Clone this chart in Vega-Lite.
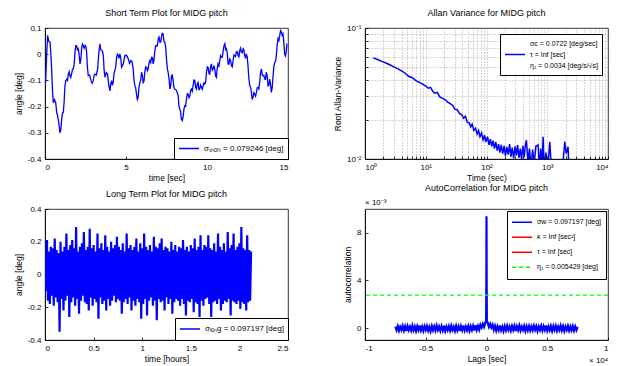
{
  "$schema": "https://vega.github.io/schema/vega-lite/v6.json",
  "background": "white",
  "padding": {"left": 13, "top": 8, "right": 0, "bottom": 0},
  "config": {
    "font": "Liberation Sans",
    "view": {"stroke": "black", "strokeWidth": 0.8},
    "axis": {"domainColor": "black", "domainWidth": 0.8, "tickColor": "black", "tickWidth": 0.8, "tickSize": -3, "labelPadding": 7, "labelColor": "black", "titleColor": "black", "labelFontSize": 8, "titleFontSize": 8.5, "titleFontWeight": "normal", "grid": false},
    "title": {"fontSize": 9, "fontWeight": "normal", "color": "black", "offset": 6, "anchor": "middle"},
    "legend": {"strokeColor": "black", "fillColor": "white", "padding": 4, "symbolType": "stroke", "symbolSize": 400, "symbolStrokeWidth": 1.5, "labelFontSize": 8, "labelColor": "black", "title": null}
  },
  "columns": 2,
  "bounds": "flush",
  "spacing": {"row": 50, "column": 77},
  "resolve": {"scale": {"color": "independent", "strokeDash": "independent"}, "legend": {"color": "independent", "strokeDash": "independent"}},
  "concat": [
    {
      "title": "Short Term Plot for MIDG pitch",
      "width": 243, "height": 131,
      "data": {"values": [
        {"t":0.04,"v":-0.108},{"t":0.16,"v":0.072},{"t":0.31,"v":0.046},{"t":0.41,"v":-0.056},{"t":0.51,"v":-0.185},{"t":0.66,"v":-0.185},{"t":0.78,"v":-0.236},{"t":0.92,"v":-0.300},{"t":1.03,"v":-0.249},{"t":1.13,"v":-0.223},
        {"t":1.23,"v":-0.121},{"t":1.34,"v":-0.095},{"t":1.44,"v":-0.076},{"t":1.54,"v":-0.082},{"t":1.64,"v":-0.076},{"t":1.75,"v":-0.056},{"t":1.85,"v":0.008},{"t":1.95,"v":0.033},{"t":2.05,"v":0.021},{"t":2.16,"v":-0.037},
        {"t":2.26,"v":0.021},{"t":2.36,"v":0.033},{"t":2.47,"v":0.033},{"t":2.57,"v":0.008},{"t":2.67,"v":-0.082},{"t":2.84,"v":-0.101},{"t":2.98,"v":-0.101},{"t":3.08,"v":-0.076},{"t":3.25,"v":-0.056},{"t":3.39,"v":0.040},
        {"t":3.49,"v":0.014},{"t":3.60,"v":-0.005},{"t":3.70,"v":-0.088},{"t":3.86,"v":-0.076},{"t":4.01,"v":-0.140},{"t":4.11,"v":-0.101},{"t":4.21,"v":-0.108},{"t":4.31,"v":-0.063},{"t":4.42,"v":-0.012},{"t":4.52,"v":-0.005},
        {"t":4.62,"v":0.001},{"t":4.73,"v":-0.050},{"t":4.93,"v":-0.005},{"t":5.14,"v":-0.018},{"t":5.30,"v":-0.024},{"t":5.44,"v":-0.056},{"t":5.55,"v":-0.121},{"t":5.65,"v":-0.153},{"t":5.75,"v":-0.165},{"t":5.86,"v":-0.108},
        {"t":5.96,"v":-0.069},{"t":6.06,"v":-0.108},{"t":6.16,"v":-0.069},{"t":6.27,"v":-0.050},{"t":6.37,"v":-0.056},{"t":6.47,"v":-0.024},{"t":6.58,"v":-0.012},{"t":6.68,"v":-0.037},{"t":6.78,"v":0.014},{"t":6.88,"v":0.033},
        {"t":6.99,"v":0.059},{"t":7.09,"v":0.046},{"t":7.19,"v":0.065},{"t":7.29,"v":0.078},{"t":7.40,"v":0.046},{"t":7.50,"v":-0.018},{"t":7.60,"v":-0.069},{"t":7.71,"v":-0.133},{"t":7.81,"v":-0.082},{"t":7.91,"v":-0.101},
        {"t":8.01,"v":-0.133},{"t":8.22,"v":-0.159},{"t":8.32,"v":-0.210},{"t":8.42,"v":-0.249},{"t":8.53,"v":-0.236},{"t":8.63,"v":-0.197},{"t":8.73,"v":-0.172},{"t":8.84,"v":-0.153},{"t":8.94,"v":-0.159},{"t":9.04,"v":-0.133},
        {"t":9.14,"v":-0.121},{"t":9.25,"v":-0.101},{"t":9.35,"v":-0.133},{"t":9.45,"v":-0.108},{"t":9.55,"v":-0.133},{"t":9.66,"v":-0.127},{"t":9.76,"v":-0.121},{"t":9.86,"v":-0.114},{"t":9.97,"v":-0.069},{"t":10.07,"v":-0.050},
        {"t":10.17,"v":-0.076},{"t":10.27,"v":-0.037},{"t":10.38,"v":-0.056},{"t":10.48,"v":-0.056},{"t":10.58,"v":-0.088},{"t":10.68,"v":-0.037},{"t":10.79,"v":-0.024},{"t":10.89,"v":-0.012},{"t":10.99,"v":0.008},{"t":11.10,"v":0.040},
        {"t":11.20,"v":0.021},{"t":11.30,"v":-0.037},{"t":11.40,"v":-0.018},{"t":11.51,"v":-0.044},{"t":11.61,"v":-0.024},{"t":11.71,"v":-0.005},{"t":11.81,"v":0.008},{"t":11.92,"v":-0.005},{"t":12.02,"v":0.014},{"t":12.12,"v":0.008},
        {"t":12.23,"v":0.021},{"t":12.33,"v":-0.005},{"t":12.43,"v":0.001},{"t":12.53,"v":-0.044},{"t":12.64,"v":-0.121},{"t":12.74,"v":-0.146},{"t":12.84,"v":-0.165},{"t":12.95,"v":-0.153},{"t":13.05,"v":-0.146},{"t":13.15,"v":-0.127},
        {"t":13.25,"v":-0.108},{"t":13.36,"v":-0.056},{"t":13.46,"v":-0.082},{"t":13.56,"v":-0.095},{"t":13.66,"v":-0.069},{"t":13.77,"v":-0.121},{"t":13.87,"v":-0.095},{"t":13.97,"v":-0.146},{"t":14.08,"v":-0.082},{"t":14.18,"v":-0.031},
        {"t":14.28,"v":-0.005},{"t":14.38,"v":0.059},{"t":14.49,"v":0.072},{"t":14.59,"v":0.085},{"t":14.69,"v":0.078},{"t":14.79,"v":0.001},{"t":14.90,"v":0.014},{"t":14.96,"v":0.033},
        {"t":0.10,"v":-0.006},{"t":0.235,"v":0.049},{"t":0.36,"v":0.003},{"t":0.46,"v":-0.135},{"t":0.585,"v":-0.173},{"t":0.72,"v":-0.221},{"t":0.85,"v":-0.260},{"t":0.975,"v":-0.289},{"t":1.08,"v":-0.224},{"t":1.18,"v":-0.182},
        {"t":1.285,"v":-0.100},{"t":1.39,"v":-0.100},{"t":1.49,"v":-0.067},{"t":1.59,"v":-0.089},{"t":1.695,"v":-0.058},{"t":1.80,"v":-0.038},{"t":1.90,"v":0.033},{"t":2.00,"v":0.017},{"t":2.105,"v":0.000},{"t":2.21,"v":-0.022},
        {"t":2.31,"v":0.039},{"t":2.415,"v":0.023},{"t":2.52,"v":0.029},{"t":2.62,"v":-0.051},{"t":2.755,"v":-0.080},{"t":2.91,"v":-0.111},{"t":3.03,"v":-0.081},{"t":3.165,"v":-0.080},{"t":3.32,"v":0.004},{"t":3.44,"v":0.017},
        {"t":3.545,"v":0.013},{"t":3.65,"v":-0.061},{"t":3.78,"v":-0.070},{"t":3.935,"v":-0.118},{"t":4.06,"v":-0.113},{"t":4.16,"v":-0.119},{"t":4.26,"v":-0.074},{"t":4.365,"v":-0.048},{"t":4.47,"v":0.000},{"t":4.57,"v":-0.016},
        {"t":4.675,"v":-0.013},{"t":4.83,"v":-0.038},{"t":5.035,"v":-0.004},{"t":5.22,"v":-0.035},{"t":5.37,"v":-0.028},{"t":5.495,"v":-0.099},{"t":5.60,"v":-0.129},{"t":5.70,"v":-0.173},{"t":5.805,"v":-0.125},{"t":5.91,"v":-0.099},
        {"t":6.01,"v":-0.081},{"t":6.11,"v":-0.103},{"t":6.215,"v":-0.048},{"t":6.32,"v":-0.063},{"t":6.42,"v":-0.032},{"t":6.525,"v":-0.032},{"t":6.63,"v":-0.013},{"t":6.73,"v":-0.022},{"t":6.83,"v":0.032},{"t":6.935,"v":0.032},
        {"t":7.04,"v":0.065},{"t":7.14,"v":0.046},{"t":7.24,"v":0.080},{"t":7.345,"v":0.048},{"t":7.45,"v":0.026},{"t":7.55,"v":-0.054},{"t":7.655,"v":-0.093},{"t":7.76,"v":-0.122},{"t":7.86,"v":-0.080},{"t":7.96,"v":-0.127},
        {"t":8.115,"v":-0.138},{"t":8.27,"v":-0.199},{"t":8.37,"v":-0.218},{"t":8.475,"v":-0.253},{"t":8.58,"v":-0.209},{"t":8.68,"v":-0.199},{"t":8.785,"v":-0.151},{"t":8.89,"v":-0.166},{"t":8.99,"v":-0.138},{"t":9.09,"v":-0.141},
        {"t":9.195,"v":-0.099},{"t":9.30,"v":-0.127},{"t":9.40,"v":-0.113},{"t":9.50,"v":-0.135},{"t":9.605,"v":-0.118},{"t":9.71,"v":-0.134},{"t":9.81,"v":-0.110},{"t":9.915,"v":-0.106},{"t":10.02,"v":-0.048},{"t":10.12,"v":-0.073},
        {"t":10.22,"v":-0.049},{"t":10.325,"v":-0.061},{"t":10.43,"v":-0.044},{"t":10.53,"v":-0.082},{"t":10.63,"v":-0.055},{"t":10.735,"v":-0.045},{"t":10.84,"v":-0.006},{"t":10.94,"v":-0.012},{"t":11.045,"v":0.032},{"t":11.15,"v":0.017},
        {"t":11.25,"v":0.004},{"t":11.35,"v":-0.038},{"t":11.455,"v":-0.023},{"t":11.56,"v":-0.048},{"t":11.66,"v":-0.003},{"t":11.76,"v":-0.009},{"t":11.865,"v":0.010},{"t":11.97,"v":-0.010},{"t":12.07,"v":0.023},{"t":12.175,"v":0.005},
        {"t":12.28,"v":0.016},{"t":12.38,"v":-0.016},{"t":12.48,"v":-0.010},{"t":12.585,"v":-0.093},{"t":12.69,"v":-0.126},{"t":12.79,"v":-0.170},{"t":12.895,"v":-0.147},{"t":13.00,"v":-0.160},{"t":13.10,"v":-0.129},{"t":13.20,"v":-0.132},
        {"t":13.305,"v":-0.070},{"t":13.41,"v":-0.079},{"t":13.51,"v":-0.081},{"t":13.61,"v":-0.096},{"t":13.715,"v":-0.083},{"t":13.82,"v":-0.118},{"t":13.92,"v":-0.113},{"t":14.025,"v":-0.128},{"t":14.13,"v":-0.045},{"t":14.23,"v":-0.028},
        {"t":14.33,"v":0.035},{"t":14.435,"v":0.052},{"t":14.54,"v":0.090},{"t":14.64,"v":0.072},{"t":14.74,"v":0.048},{"t":14.845,"v":-0.007},{"t":14.93,"v":0.036}
      ]},
      "transform": [{"calculate": "'σₛₕₒᵣₜ = 0.079246 [deg]'", "as": "s1"}],
      "mark": {"type": "line", "strokeWidth": 1.3, "clip": true},
      "encoding": {
        "x": {"field": "t", "type": "quantitative", "scale": {"domain": [0, 15], "nice": false}, "axis": {"title": "time [sec]", "values": [0, 5, 10, 15], "labelExpr": "toString(datum.value)", "titlePadding": 2}},
        "y": {"field": "v", "type": "quantitative", "scale": {"domain": [-0.4, 0.1], "nice": false}, "axis": {"title": "angle [deg]", "values": [-0.4, -0.3, -0.2, -0.1, 0, 0.1], "labelExpr": "toString(datum.value)"}},
        "color": {"field": "s1", "type": "nominal", "scale": {"range": ["#0000ff"]}, "legend": {"orient": "bottom-right", "offset": 0, "clipHeight": 13}}
      }
    },
    {
      "title": "Allan Variance for MIDG pitch",
      "width": 243, "height": 131,
      "data": {"values": [
        {"tau":1.37,"av":0.0591},{"tau":1.6,"av":0.0575},{"tau":1.9,"av":0.0556},{"tau":2.2,"av":0.0540},{"tau":2.6,"av":0.0522},{"tau":3.0,"av":0.0505},{"tau":3.5,"av":0.0488},{"tau":4.0,"av":0.0470},{"tau":4.5,"av":0.0455},{"tau":5.2,"av":0.0428},
        {"tau":6.0,"av":0.0417},{"tau":7.0,"av":0.0395},{"tau":8.0,"av":0.0383},{"tau":9.0,"av":0.0371},{"tau":10,"av":0.0360},{"tau":11,"av":0.0347},{"tau":12,"av":0.0352},{"tau":13,"av":0.0330},{"tau":14,"av":0.0318},{"tau":15.5,"av":0.0322},
        {"tau":17,"av":0.0298},{"tau":19,"av":0.0290},{"tau":21,"av":0.0283},{"tau":23,"av":0.0272},{"tau":26,"av":0.0262},{"tau":28,"av":0.0255},{"tau":30,"av":0.0240},{"tau":33,"av":0.0238},{"tau":36,"av":0.0222},{"tau":39,"av":0.0218},
        {"tau":42,"av":0.0205},{"tau":45,"av":0.0212},{"tau":48,"av":0.0192},{"tau":52,"av":0.0188},{"tau":55,"av":0.0176},{"tau":58,"av":0.0185},{"tau":62,"av":0.0165},{"tau":66,"av":0.0172},{"tau":70,"av":0.0155},{"tau":74,"av":0.0165},
        {"tau":78,"av":0.0148},{"tau":83,"av":0.0158},{"tau":88,"av":0.0140},{"tau":93,"av":0.0152},{"tau":98,"av":0.0135},{"tau":104,"av":0.0148},{"tau":110,"av":0.0128},{"tau":116,"av":0.0142},{"tau":122,"av":0.0125},{"tau":128,"av":0.0138},
        {"tau":135,"av":0.0120},{"tau":142,"av":0.0135},{"tau":150,"av":0.0116},{"tau":158,"av":0.0130},{"tau":166,"av":0.0112},{"tau":175,"av":0.0128},{"tau":185,"av":0.0110},{"tau":195,"av":0.0126},{"tau":205,"av":0.0105},{"tau":216,"av":0.0124},
        {"tau":228,"av":0.0108},{"tau":240,"av":0.0130},{"tau":252,"av":0.0104},{"tau":265,"av":0.0122},{"tau":280,"av":0.0101},{"tau":295,"av":0.0125},{"tau":310,"av":0.0106},{"tau":325,"av":0.0128},{"tau":342,"av":0.0102},{"tau":360,"av":0.0120},
        {"tau":378,"av":0.0099},{"tau":397,"av":0.0126},{"tau":417,"av":0.0103},{"tau":438,"av":0.0130},{"tau":455,"av":0.0139},{"tau":480,"av":0.0095},{"tau":510,"av":0.0120},{"tau":540,"av":0.0088},{"tau":575,"av":0.0118},{"tau":610,"av":0.0092},
        {"tau":650,"av":0.0125},{"tau":707,"av":0.0128},{"tau":740,"av":0.0085},{"tau":780,"av":0.0120},{"tau":820,"av":0.0090},{"tau":855,"av":0.0148},{"tau":890,"av":0.0080},{"tau":950,"av":0.0112},{"tau":1020,"av":0.0085},{"tau":1100,"av":0.0135},
        {"tau":1180,"av":0.0080},{"tau":1300,"av":0.0070},{"tau":1500,"av":0.0065},{"tau":1750,"av":0.0075},{"tau":1940,"av":0.0136},{"tau":2050,"av":0.0110},{"tau":2200,"av":0.0124},{"tau":2300,"av":0.0070}
      ]},
      "transform": [{"calculate": "'τ = Inf [sec]'", "as": "s2"}],
      "mark": {"type": "line", "strokeWidth": 1.5, "clip": true},
      "encoding": {
        "x": {"field": "tau", "type": "quantitative", "scale": {"type": "log", "domain": [1, 10000], "nice": false},
          "axis": {"title": "Time (sec)", "titlePadding": 2, "grid": true, "gridDash": [1, 2], "gridColor": "#777", "gridWidth": 0.6,
            "values": [1,2,3,4,5,6,7,8,9,10,20,30,40,50,60,70,80,90,100,200,300,400,500,600,700,800,900,1000,2000,3000,4000,5000,6000,7000,8000,9000,10000],
            "labelExpr": "datum.value==1?'10⁰':datum.value==10?'10¹':datum.value==100?'10²':datum.value==1000?'10³':datum.value==10000?'10⁴':''"}},
        "y": {"field": "av", "type": "quantitative", "scale": {"type": "log", "domain": [0.01, 0.1], "nice": false},
          "axis": {"title": "Root Allan-Variance", "grid": true, "gridDash": [1, 2], "gridColor": "#777", "gridWidth": 0.6,
            "values": [0.01,0.02,0.03,0.04,0.05,0.06,0.07,0.08,0.09,0.1],
            "labelExpr": "datum.value==0.01?'10⁻²':datum.value==0.1?'10⁻¹':''"}},
        "color": {"field": "s2", "type": "nominal",
          "scale": {"domain": ["σc = 0.0722 [deg/sec]", "τ = Inf [sec]", "η₁ = 0.0034 [deg/s/√s]"], "range": ["rgba(0,0,0,0)", "#0000ff", "rgba(0,0,0,0)"]},
          "legend": {"orient": "top-right", "offset": 6, "rowPadding": 0, "clipHeight": 11, "labelFontSize": 7, "padding": 4}}
      }
    },
    {
      "title": "Long Term Plot for MIDG pitch",
      "width": 243, "height": 131,
      "data": {"values": [
        {"t":0.00,"v":0.12},{"t":0.01,"v":-0.10},{"t":0.02,"v":0.21},{"t":0.03,"v":-0.16},{"t":0.04,"v":0.14},{"t":0.05,"v":-0.18},{"t":0.06,"v":0.17},{"t":0.07,"v":-0.13},{"t":0.08,"v":0.16},{"t":0.09,"v":-0.19},
        {"t":0.10,"v":0.22},{"t":0.11,"v":-0.14},{"t":0.12,"v":0.15},{"t":0.13,"v":-0.17},{"t":0.14,"v":0.13},{"t":0.15,"v":-0.35},{"t":0.16,"v":0.20},{"t":0.17,"v":-0.15},{"t":0.18,"v":0.14},{"t":0.19,"v":-0.22},
        {"t":0.20,"v":0.17},{"t":0.21,"v":-0.16},{"t":0.22,"v":0.25},{"t":0.23,"v":-0.13},{"t":0.24,"v":0.15},{"t":0.25,"v":-0.26},{"t":0.26,"v":0.18},{"t":0.27,"v":-0.17},{"t":0.28,"v":0.21},{"t":0.29,"v":-0.14},
        {"t":0.30,"v":0.16},{"t":0.31,"v":-0.19},{"t":0.32,"v":0.29},{"t":0.33,"v":-0.15},{"t":0.34,"v":0.14},{"t":0.35,"v":-0.24},{"t":0.36,"v":0.17},{"t":0.37,"v":-0.16},{"t":0.38,"v":0.19},{"t":0.39,"v":-0.13},
        {"t":0.40,"v":0.26},{"t":0.41,"v":-0.17},{"t":0.42,"v":0.15},{"t":0.43,"v":-0.18},{"t":0.44,"v":0.17},{"t":0.45,"v":-0.22},{"t":0.46,"v":0.28},{"t":0.47,"v":-0.14},{"t":0.48,"v":0.16},{"t":0.49,"v":-0.19},
        {"t":0.50,"v":0.18},{"t":0.51,"v":-0.15},{"t":0.52,"v":0.14},{"t":0.53,"v":-0.17},{"t":0.54,"v":0.25},{"t":0.55,"v":-0.27},{"t":0.56,"v":0.16},{"t":0.57,"v":-0.14},{"t":0.58,"v":0.19},{"t":0.59,"v":-0.18},
        {"t":0.60,"v":0.15},{"t":0.61,"v":-0.16},{"t":0.62,"v":0.24},{"t":0.63,"v":-0.22},{"t":0.64,"v":0.17},{"t":0.65,"v":-0.15},{"t":0.66,"v":0.14},{"t":0.67,"v":-0.19},{"t":0.68,"v":0.20},{"t":0.69,"v":-0.16},
        {"t":0.70,"v":0.16},{"t":0.71,"v":-0.13},{"t":0.72,"v":0.18},{"t":0.73,"v":-0.17},{"t":0.74,"v":0.23},{"t":0.75,"v":-0.15},{"t":0.76,"v":0.17},{"t":0.77,"v":-0.16},{"t":0.78,"v":0.15},{"t":0.79,"v":-0.24},
        {"t":0.80,"v":0.19},{"t":0.81,"v":-0.17},{"t":0.82,"v":0.14},{"t":0.83,"v":-0.15},{"t":0.84,"v":0.25},{"t":0.85,"v":-0.18},{"t":0.86,"v":0.16},{"t":0.87,"v":-0.14},{"t":0.88,"v":0.18},{"t":0.89,"v":-0.22},
        {"t":0.90,"v":0.15},{"t":0.91,"v":-0.16},{"t":0.92,"v":0.17},{"t":0.93,"v":-0.19},{"t":0.94,"v":0.22},{"t":0.95,"v":-0.15},{"t":0.96,"v":0.14},{"t":0.97,"v":-0.17},{"t":0.98,"v":0.19},{"t":0.99,"v":-0.27},
        {"t":1.00,"v":0.16},{"t":1.01,"v":-0.18},{"t":1.02,"v":0.25},{"t":1.03,"v":-0.15},{"t":1.04,"v":0.17},{"t":1.05,"v":-0.25},{"t":1.06,"v":0.15},{"t":1.07,"v":-0.16},{"t":1.08,"v":0.18},{"t":1.09,"v":-0.14},
        {"t":1.10,"v":0.14},{"t":1.11,"v":-0.19},{"t":1.12,"v":0.23},{"t":1.13,"v":-0.16},{"t":1.14,"v":0.17},{"t":1.15,"v":-0.28},{"t":1.16,"v":0.16},{"t":1.17,"v":-0.15},{"t":1.18,"v":0.19},{"t":1.19,"v":-0.17},
        {"t":1.20,"v":0.22},{"t":1.21,"v":-0.16},{"t":1.22,"v":0.15},{"t":1.23,"v":-0.22},{"t":1.24,"v":0.17},{"t":1.25,"v":-0.14},{"t":1.26,"v":0.16},{"t":1.27,"v":-0.18},{"t":1.28,"v":0.14},{"t":1.29,"v":-0.15},
        {"t":1.30,"v":0.20},{"t":1.31,"v":-0.24},{"t":1.32,"v":0.15},{"t":1.33,"v":-0.17},{"t":1.34,"v":0.18},{"t":1.35,"v":-0.15},{"t":1.36,"v":0.14},{"t":1.37,"v":-0.16},{"t":1.38,"v":0.17},{"t":1.39,"v":-0.19},
        {"t":1.40,"v":0.16},{"t":1.41,"v":-0.15},{"t":1.42,"v":0.21},{"t":1.43,"v":-0.18},{"t":1.44,"v":0.15},{"t":1.45,"v":-0.25},{"t":1.46,"v":0.17},{"t":1.47,"v":-0.16},{"t":1.48,"v":0.14},{"t":1.49,"v":-0.17},
        {"t":1.50,"v":0.18},{"t":1.51,"v":-0.15},{"t":1.52,"v":0.16},{"t":1.53,"v":-0.23},{"t":1.54,"v":0.22},{"t":1.55,"v":-0.17},{"t":1.56,"v":0.15},{"t":1.57,"v":-0.18},{"t":1.58,"v":0.17},{"t":1.59,"v":-0.26},
        {"t":1.60,"v":0.24},{"t":1.61,"v":-0.16},{"t":1.62,"v":0.15},{"t":1.63,"v":-0.19},{"t":1.64,"v":0.18},{"t":1.65,"v":-0.15},{"t":1.66,"v":0.17},{"t":1.67,"v":-0.14},{"t":1.68,"v":0.24},{"t":1.69,"v":-0.18},
        {"t":1.70,"v":0.16},{"t":1.71,"v":-0.26},{"t":1.72,"v":0.15},{"t":1.73,"v":-0.17},{"t":1.74,"v":0.19},{"t":1.75,"v":-0.16},{"t":1.76,"v":0.14},{"t":1.77,"v":-0.18},{"t":1.78,"v":0.25},{"t":1.79,"v":-0.15},
        {"t":1.80,"v":0.17},{"t":1.81,"v":-0.22},{"t":1.82,"v":0.15},{"t":1.83,"v":-0.18},{"t":1.84,"v":0.19},{"t":1.85,"v":-0.16},{"t":1.86,"v":0.14},{"t":1.87,"v":-0.17},{"t":1.88,"v":0.26},{"t":1.89,"v":-0.15},
        {"t":1.90,"v":0.16},{"t":1.91,"v":-0.25},{"t":1.92,"v":0.18},{"t":1.93,"v":-0.16},{"t":1.94,"v":0.25},{"t":1.95,"v":-0.17},{"t":1.96,"v":0.15},{"t":1.97,"v":-0.18},{"t":1.98,"v":0.17},{"t":1.99,"v":-0.16},
        {"t":2.00,"v":0.19},{"t":2.01,"v":-0.21},{"t":2.02,"v":0.29},{"t":2.03,"v":-0.17},{"t":2.04,"v":0.16},{"t":2.05,"v":-0.18},{"t":2.06,"v":0.15},{"t":2.07,"v":-0.22},{"t":2.08,"v":0.24},{"t":2.09,"v":-0.17},
        {"t":2.10,"v":0.15},{"t":2.11,"v":-0.16},{"t":2.12,"v":0.14}
      ]},
      "transform": [{"calculate": "'σₗₒₙg = 0.097197 [deg]'", "as": "s3"}],
      "mark": {"type": "line", "strokeWidth": 2.2, "clip": true},
      "encoding": {
        "x": {"field": "t", "type": "quantitative", "scale": {"domain": [0, 2.5], "nice": false}, "axis": {"title": "time [hours]", "titlePadding": 2, "values": [0, 0.5, 1, 1.5, 2, 2.5], "labelExpr": "toString(datum.value)"}},
        "y": {"field": "v", "type": "quantitative", "scale": {"domain": [-0.4, 0.4], "nice": false}, "axis": {"title": "angle [deg]", "values": [-0.4, -0.2, 0, 0.2, 0.4], "labelExpr": "toString(datum.value)"}},
        "color": {"field": "s3", "type": "nominal", "scale": {"range": ["#0000ff"]}, "legend": {"orient": "bottom-right", "offset": 0, "clipHeight": 14, "symbolStrokeWidth": 1.5}}
      }
    },
    {
      "title": "AutoCorrelation for MIDG pitch",
      "width": 243, "height": 131,
      "layer": [
        {
          "data": {"values": [
            {"l":-0.75,"a":0.12},{"l":-0.74,"a":-0.18},{"l":-0.73,"a":0.16},{"l":-0.72,"a":-0.22},{"l":-0.71,"a":0.10},{"l":-0.70,"a":-0.15},{"l":-0.69,"a":0.19},{"l":-0.68,"a":-0.20},{"l":-0.67,"a":0.14},{"l":-0.66,"a":-0.25},
            {"l":-0.65,"a":0.17},{"l":-0.64,"a":-0.16},{"l":-0.63,"a":0.11},{"l":-0.62,"a":-0.21},{"l":-0.61,"a":0.20},{"l":-0.60,"a":-0.18},{"l":-0.59,"a":0.13},{"l":-0.58,"a":-0.24},{"l":-0.57,"a":0.16},{"l":-0.56,"a":-0.17},
            {"l":-0.55,"a":0.22},{"l":-0.54,"a":-0.19},{"l":-0.53,"a":0.12},{"l":-0.52,"a":-0.23},{"l":-0.51,"a":0.15},{"l":-0.50,"a":-0.16},{"l":-0.49,"a":0.18},{"l":-0.48,"a":-0.21},{"l":-0.47,"a":0.10},{"l":-0.46,"a":-0.26},
            {"l":-0.45,"a":0.17},{"l":-0.44,"a":-0.18},{"l":-0.43,"a":0.14},{"l":-0.42,"a":-0.20},{"l":-0.41,"a":0.21},{"l":-0.40,"a":-0.15},{"l":-0.39,"a":0.13},{"l":-0.38,"a":-0.22},{"l":-0.37,"a":0.16},{"l":-0.36,"a":-0.19},
            {"l":-0.35,"a":0.19},{"l":-0.34,"a":-0.24},{"l":-0.33,"a":0.12},{"l":-0.32,"a":-0.17},{"l":-0.31,"a":0.15},{"l":-0.30,"a":-0.21},{"l":-0.29,"a":0.20},{"l":-0.28,"a":-0.16},{"l":-0.27,"a":0.11},{"l":-0.26,"a":-0.23},
            {"l":-0.25,"a":0.18},{"l":-0.24,"a":-0.19},{"l":-0.23,"a":0.14},{"l":-0.22,"a":-0.25},{"l":-0.21,"a":0.16},{"l":-0.20,"a":-0.17},{"l":-0.19,"a":0.22},{"l":-0.18,"a":-0.20},{"l":-0.17,"a":0.13},{"l":-0.16,"a":-0.18},
            {"l":-0.15,"a":0.17},{"l":-0.14,"a":-0.22},{"l":-0.13,"a":0.15},{"l":-0.12,"a":-0.16},{"l":-0.11,"a":0.19},{"l":-0.10,"a":-0.21},{"l":-0.09,"a":0.24},{"l":-0.08,"a":-0.15},{"l":-0.07,"a":0.18},{"l":-0.06,"a":-0.12},
            {"l":-0.05,"a":0.28},{"l":-0.04,"a":0.05},{"l":-0.03,"a":0.35},{"l":-0.02,"a":0.10},{"l":-0.01,"a":0.45},{"l":-0.003,"a":0.6},{"l":-0.001,"a":4.5},{"l":0,"a":9.4},{"l":0.001,"a":4.5},{"l":0.003,"a":0.6},
            {"l":0.01,"a":0.45},{"l":0.02,"a":0.10},{"l":0.03,"a":0.35},{"l":0.04,"a":0.05},{"l":0.05,"a":0.28},
            {"l":0.06,"a":-0.14},{"l":0.07,"a":0.18},{"l":0.08,"a":-0.21},{"l":0.09,"a":0.15},{"l":0.10,"a":-0.17},{"l":0.11,"a":0.22},{"l":0.12,"a":-0.19},{"l":0.13,"a":0.12},{"l":0.14,"a":-0.24},{"l":0.15,"a":0.16},
            {"l":0.16,"a":-0.18},{"l":0.17,"a":0.20},{"l":0.18,"a":-0.15},{"l":0.19,"a":0.13},{"l":0.20,"a":-0.22},{"l":0.21,"a":0.17},{"l":0.22,"a":-0.16},{"l":0.23,"a":0.19},{"l":0.24,"a":-0.25},{"l":0.25,"a":0.14},
            {"l":0.26,"a":-0.17},{"l":0.27,"a":0.21},{"l":0.28,"a":-0.20},{"l":0.29,"a":0.12},{"l":0.30,"a":-0.16},{"l":0.31,"a":0.18},{"l":0.32,"a":-0.23},{"l":0.33,"a":0.15},{"l":0.34,"a":-0.19},{"l":0.35,"a":0.17},
            {"l":0.36,"a":-0.21},{"l":0.37,"a":0.13},{"l":0.38,"a":-0.18},{"l":0.39,"a":0.20},{"l":0.40,"a":-0.15},{"l":0.41,"a":0.16},{"l":0.42,"a":-0.24},{"l":0.43,"a":0.12},{"l":0.44,"a":-0.17},{"l":0.45,"a":0.19},
            {"l":0.46,"a":-0.20},{"l":0.47,"a":0.15},{"l":0.48,"a":-0.16},{"l":0.49,"a":0.22},{"l":0.50,"a":-0.21},{"l":0.51,"a":0.14},{"l":0.52,"a":-0.18},{"l":0.53,"a":0.17},{"l":0.54,"a":-0.23},{"l":0.55,"a":0.16},
            {"l":0.56,"a":-0.15},{"l":0.57,"a":0.19},{"l":0.58,"a":-0.22},{"l":0.59,"a":0.13},{"l":0.60,"a":-0.17},{"l":0.61,"a":0.20},{"l":0.62,"a":-0.19},{"l":0.63,"a":0.15},{"l":0.64,"a":-0.24},{"l":0.65,"a":0.12},
            {"l":0.66,"a":-0.16},{"l":0.67,"a":0.18},{"l":0.68,"a":-0.20},{"l":0.69,"a":0.14},{"l":0.70,"a":-0.18},{"l":0.71,"a":0.16},{"l":0.72,"a":-0.21},{"l":0.73,"a":0.13},{"l":0.74,"a":-0.17},{"l":0.75,"a":0.10}
          ]},
          "transform": [{"calculate": "'σw = 0.097197 [deg]'", "as": "s4"}],
          "mark": {"type": "line", "strokeWidth": 2.2, "clip": true},
          "encoding": {
            "x": {"field": "l", "type": "quantitative", "scale": {"domain": [-1, 1], "nice": false}, "axis": {"title": "Lags [sec]", "titlePadding": 2, "values": [-1, -0.5, 0, 0.5, 1], "labelExpr": "toString(datum.value)"}},
            "y": {"field": "a", "type": "quantitative", "scale": {"domain": [-1, 10], "nice": false}, "axis": {"title": "autocorrelation", "values": [0, 2, 4, 6, 8, 10]}},
            "color": {"field": "s4", "type": "nominal",
              "scale": {"domain": ["σw = 0.097197 [deg]", "κ = Inf [sec²]", "τ = Inf [sec]", "η₁ = 0.005429 [deg]"], "range": ["#0000ff", "#ff0000", "#ff0000", "#00ff00"]},
              "legend": {"orient": "top-right", "offset": 2, "rowPadding": 0, "clipHeight": 14.5, "labelFontSize": 7, "symbolStrokeWidth": 1.3}},
            "strokeDash": {"field": "s4", "type": "nominal",
              "scale": {"domain": ["σw = 0.097197 [deg]", "κ = Inf [sec²]", "τ = Inf [sec]", "η₁ = 0.005429 [deg]"], "range": [[1, 0], [1, 0], [1, 0], [4, 3]]},
              "legend": {"orient": "top-right", "offset": 2, "rowPadding": 0, "clipHeight": 14.5, "labelFontSize": 7, "symbolStrokeWidth": 1.3}}
          }
        },
        {
          "data": {"values": [{"a": 2.77, "s4": "η₁ = 0.005429 [deg]"}]},
          "mark": {"type": "rule", "strokeWidth": 1.2},
          "encoding": {
            "y": {"field": "a", "type": "quantitative"},
            "color": {"field": "s4", "type": "nominal"},
            "strokeDash": {"field": "s4", "type": "nominal"}
          }
        },
        {
          "data": {"values": [{}]},
          "mark": {"type": "text", "align": "left", "baseline": "bottom", "dy": -2, "fontSize": 8, "color": "black"},
          "encoding": {"x": {"datum": -1}, "y": {"datum": 10}, "text": {"value": "× 10⁻³"}}
        },
        {
          "data": {"values": [{}]},
          "mark": {"type": "text", "align": "left", "baseline": "top", "dx": -19, "dy": 17, "fontSize": 8, "color": "black"},
          "encoding": {"x": {"datum": 1}, "y": {"datum": -1}, "text": {"value": "× 10⁴"}}
        }
      ]
    }
  ]
}
